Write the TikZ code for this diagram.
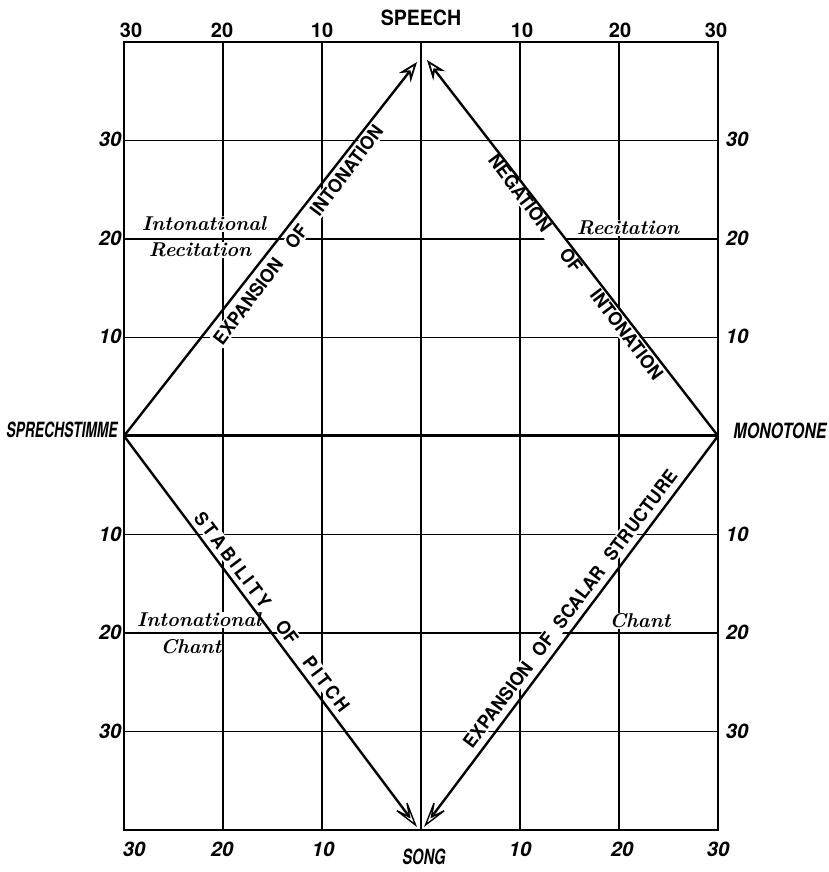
\documentclass[tikz,border=0pt]{standalone}
\usepackage{fontspec}
\setsansfont{TeX Gyre Heros}
\usepackage{graphicx}
\usetikzlibrary{arrows.meta}
\tikzset{
  gridline/.style={line width=1.4pt, black},
  frameline/.style={line width=2.4pt, black},
  midline/.style={line width=3pt, black},
  dline/.style={line width=2.4pt, black},
  uparrow/.style={-{Stealth[open, length=20pt, width=15pt, inset=7pt, line width=1.8pt]}},
  downarrow/.style={-{Stealth[open, length=32pt, width=18pt, inset=18pt, line width=1.4pt]}},
  rottext/.style={fill=white, inner sep=1.5pt, font=\fontsize{18.5}{19}\selectfont\sffamily\bfseries},
  cursive/.style={fill=white, inner sep=1pt, font=\fontsize{20}{20}\selectfont\bfseries\itshape},
  tickup/.style={inner sep=0pt, font=\fontsize{20}{20}\selectfont\sffamily\bfseries},
  tickit/.style={inner sep=0pt, font=\fontsize{20}{20}\selectfont\sffamily\bfseries\itshape},
  bigword/.style={inner sep=0pt, font=\fontsize{21}{21}\selectfont\sffamily\bfseries}
}
\begin{document}
\begin{tikzpicture}[x=1pt,y=1pt]
\useasboundingbox (0,0) rectangle (828,872);
% corner points of the diamond
\coordinate (L) at (124,436);
\coordinate (R) at (718,436);
\coordinate (TL) at (417,810);
\coordinate (TR) at (427,812);
\coordinate (BL) at (417,45);
\coordinate (BR) at (424,45);
% grid
\foreach \x in {223,322,421,520,619}
  \draw[gridline] (\x,42) -- (\x,830);
\foreach \y in {140.5,239,337.5,534.5,633,731.5}
  \draw[gridline] (124,\y) -- (718,\y);
% rotated texts
\node[rottext, rotate=53] (t1) at (298,637) {\scalebox{0.95}[1]{EXPANSION\hspace{18pt}OF\hspace{18pt}INTONATION}};
\node[rottext, rotate=-53] (t2) at (576,605) {\scalebox{0.95}[1]{NEGATION\hspace{28pt}OF\hspace{28pt}INTONATION}};
\node[rottext, rotate=-53] (t3) at (272,260) {\scalebox{0.95}[1]{S\,T\,A\,B\,I\,L\,I\,T\,Y\hspace{22pt}OF\hspace{22pt}P\,I\,T\,C\,H}};
\node[rottext, rotate=53] (t4) at (570,263) {\scalebox{0.95}[1]{EXPANSION\hspace{12pt}OF\hspace{12pt}SCALAR\hspace{12pt}STRUCTURE}};
% cursive labels
\node[cursive] (ir1) at (204,648) {Intonational};
\node[cursive] (ir2) at (200,622) {Recitation};
\node[cursive] (rr) at (628,644) {Recitation};
\node[cursive] (ic1) at (199,252) {Intonational};
\node[cursive] (ic2) at (191,225) {Chant};
\node[cursive] (cr) at (640,251) {Chant};
\draw[gridline] (124,633) -- (272,633);
\draw[gridline] (124,239) -- (272,239);
% frame and middle line
\draw[frameline] (124,42) rectangle (718,830);
\draw[midline] (L) -- (R);
% diamond arrows
\draw[dline, uparrow] (L) -- (TL);
\draw[dline, uparrow] (R) -- (TR);
\draw[dline, downarrow] (L) -- (BL);
\draw[dline, downarrow] (R) -- (BR);
% end labels
\node[bigword] (speech) at (421,854) {\scalebox{0.93}[1]{SPEECH}};
\node[bigword] (song) at (424,15) {\scalebox{0.7}[1]{\itshape SONG}};
\node[bigword] (spr) at (62,442) {\scalebox{0.66}[1]{\itshape SPRECHSTIMME}};
\node[bigword] (mono) at (780,441) {\scalebox{0.76}[1]{\itshape MONOTONE}};
% top ticks
\node[tickup] (u1) at (131,842) {30};
\node[tickup] (u2) at (222,842) {20};
\node[tickup] (u3) at (322,842) {10};
\node[tickup] (u4) at (522,842) {10};
\node[tickup] (u5) at (620,842) {20};
\node[tickup] (u6) at (716,842) {30};
% bottom ticks
\node[tickit] (d1) at (134,23) {30};
\node[tickit] (d2) at (222,23) {20};
\node[tickit] (d3) at (323,23) {10};
\node[tickit] (d4) at (520,23) {10};
\node[tickit] (d5) at (622,23) {20};
\node[tickit] (d6) at (718,23) {30};
% left ticks
\node[tickit] (l1) at (110,733) {30};
\node[tickit] (l2) at (110,634) {20};
\node[tickit] (l3) at (110,536) {10};
\node[tickit] (l4) at (110,338) {10};
\node[tickit] (l5) at (110,240) {20};
\node[tickit] (l6) at (110,141) {30};
% right ticks
\node[tickit] (r1) at (737,733) {30};
\node[tickit] (r2) at (737,634) {20};
\node[tickit] (r3) at (737,536) {10};
\node[tickit] (r4) at (737,338) {10};
\node[tickit] (r5) at (737,240) {20};
\node[tickit] (r6) at (737,141) {30};
\end{tikzpicture}
\end{document}
